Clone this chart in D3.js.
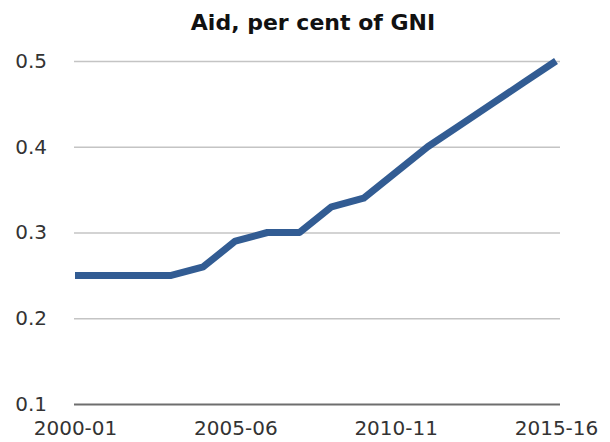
<!DOCTYPE html>
<html>
<head>
<meta charset="utf-8">
<script src="https://cdn.jsdelivr.net/npm/d3@7"></script>
<style>
  html, body { margin: 0; padding: 0; background: #fff; }
  svg { display: block; font-family: 'DejaVu Sans', sans-serif; }
</style>
</head>
<body>
<svg id="chart"></svg>
<script>
const periods = ['2000-01', '2001-02', '2002-03', '2003-04', '2004-05', '2005-06', '2006-07', '2007-08',
  '2008-09', '2009-10', '2010-11', '2011-12', '2012-13', '2013-14', '2014-15', '2015-16']
const aid = [0.25, 0.25, 0.25, 0.25, 0.26, 0.29, 0.30, 0.30, 0.33, 0.34, 0.37, 0.40, 0.425, 0.45, 0.475, 0.50]
const yTicks = [0.1, 0.2, 0.3, 0.4, 0.5]
const xTickLabels = ['2000-01', '2005-06', '2010-11', '2015-16']

const width = 610
const height = 442
const margin = { top: 61, right: 50, bottom: 38, left: 74 }
const lineColor = '#325c93'
const font = "'DejaVu Sans', sans-serif"

const svg = d3.select('#chart').attr('width', width).attr('height', height)

const x = d3.scalePoint()
  .domain(periods)
  .range([margin.left + 1, width - 54])

const y = d3.scaleLinear()
  .domain([0.1, 0.5])
  .range([height - margin.bottom, margin.top])

// y axis, ticks double as gridlines
const yAxis = svg.append('g')
  .attr('transform', 'translate(' + margin.left + ',0)')
  .call(d3.axisLeft(y)
    .tickValues(yTicks)
    .tickSize(-(width - margin.left - margin.right))
    .tickPadding(27)
    .tickFormat(d3.format('.1f')))
  .attr('font-family', font)
  .attr('font-size', 20)

yAxis.select('.domain').remove()
yAxis.selectAll('.tick line')
  .attr('stroke', d => d === 0.1 ? '#6e6e6e' : '#c4c4c4')
  .attr('stroke-width', d => d === 0.1 ? 2 : 1.5)
yAxis.selectAll('.tick text')
  .attr('fill', '#333')

// x axis labels
const xAxis = svg.append('g')
  .attr('transform', 'translate(0,' + (height - margin.bottom) + ')')
  .call(d3.axisBottom(x)
    .tickValues(xTickLabels)
    .tickSize(0)
    .tickPadding(17))
  .attr('font-family', font)
  .attr('font-size', 20)

xAxis.select('.domain').remove()
xAxis.selectAll('.tick text')
  .attr('fill', '#333')

// line
const line = d3.line()
  .x((d, i) => x(periods[i]))
  .y(d => y(d))

svg.append('path')
  .datum(aid)
  .attr('fill', 'none')
  .attr('stroke', lineColor)
  .attr('stroke-width', 7)
  .attr('stroke-linejoin', 'round')
  .attr('d', line)

// title
svg.append('text')
  .attr('x', 313)
  .attr('y', 30)
  .attr('text-anchor', 'middle')
  .attr('font-size', 22)
  .attr('font-weight', 'bold')
  .attr('fill', '#111')
  .text('Aid, per cent of GNI')
</script>
</body>
</html>
